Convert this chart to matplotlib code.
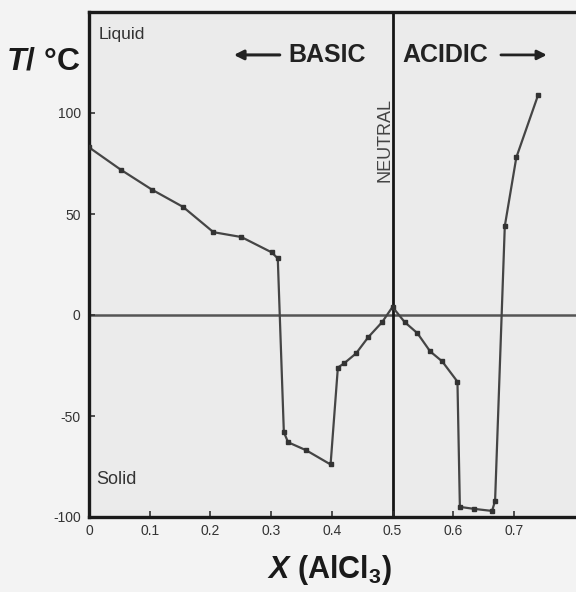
import matplotlib
matplotlib.use("Agg")
import matplotlib.pyplot as plt

plt.rcParams['font.family'] = ['Liberation Sans', 'DejaVu Sans']
plt.rcParams['mathtext.fontset'] = 'custom'
plt.rcParams['mathtext.it'] = 'Liberation Sans:italic:bold'
plt.rcParams['mathtext.bf'] = 'Liberation Sans:bold'
plt.rcParams['mathtext.rm'] = 'Liberation Sans:bold'

# Data: freezing point of [EMIM]Cl-AlCl3 vs mole fraction AlCl3
x_alcl3 = [0.0, 0.052, 0.104, 0.155, 0.205, 0.251, 0.301, 0.311, 0.321, 0.328,
           0.358, 0.398, 0.41, 0.42, 0.44, 0.46, 0.483, 0.5, 0.52, 0.541,
           0.562, 0.582, 0.607, 0.611, 0.635, 0.664, 0.669, 0.685, 0.704, 0.74]
temp_c = [83, 72, 62, 53.5, 41, 38.6, 31, 28, -58, -63,
          -67, -74, -26, -24, -19, -11, -3.5, 4, -3.5, -9,
          -18, -23, -33, -95, -96, -97, -92, 44, 78, 109]

x_ticks = [0, 0.1, 0.2, 0.3, 0.4, 0.5, 0.6, 0.7]
x_ticklabels = ['0', '0.1', '0.2', '0.3', '0.4', '0.5', '0.6', '0.7']
y_ticks = [-100, -50, 0, 50, 100]
y_ticklabels = ['-100', '-50', '0', '50', '100']
neutral_x = 0.5

W, H = 576, 592
fig = plt.figure(figsize=(W / 100, H / 100), dpi=100, facecolor='#f3f3f3')
left_px, right_px, top_px, bot_px = 89, 579, 12, 517
ax = fig.add_axes([left_px / W, 1 - bot_px / H, (right_px - left_px) / W, (bot_px - top_px) / H])
ax.set_facecolor('#ebebeb')
ax.set_xlim(0, (right_px - left_px) / 607.0)
ax.set_ylim(-100, 150)

ax.axhline(0, color='#555555', lw=1.8, zorder=1)
ax.axvline(neutral_x, color='#151515', lw=2.0, zorder=1)

ax.plot(x_alcl3, temp_c, color='#454545', lw=1.6, marker='s', ms=2.8,
        mfc='#333333', mec='#333333', zorder=3)

for s in ['left', 'bottom', 'top']:
    ax.spines[s].set_linewidth(2.4)
    ax.spines[s].set_color('#1a1a1a')
ax.spines['right'].set_visible(False)

ax.set_xticks(x_ticks)
ax.set_xticklabels(x_ticklabels)
ax.set_yticks(y_ticks)
ax.set_yticklabels(y_ticklabels)
ax.tick_params(direction='in', length=4, width=1.2, colors='#333333',
               labelsize=10, pad=5)
ax.tick_params(axis='y', pad=6)

ax.text(0.02, 0.97, 'Liquid', transform=ax.transAxes, fontsize=12.5,
        color='#333333', va='top', ha='left')
ax.text(0.015, 0.075, 'Solid', transform=ax.transAxes, fontsize=13,
        color='#333333', va='center', ha='left')

ty = 0.915
ax.text(0.565, ty, 'BASIC', transform=ax.transAxes, fontsize=18,
        fontweight='bold', color='#222222', ha='right', va='center')
ax.annotate('', xy=(0.29, ty), xytext=(0.395, ty), xycoords='axes fraction',
            arrowprops=dict(arrowstyle='-|>', color='#222222', lw=2.2,
                            mutation_scale=14))
ax.text(0.64, ty, 'ACIDIC', transform=ax.transAxes, fontsize=18,
        fontweight='bold', color='#222222', ha='left', va='center')
ax.annotate('', xy=(0.94, ty), xytext=(0.835, ty), xycoords='axes fraction',
            arrowprops=dict(arrowstyle='-|>', color='#222222', lw=2.0,
                            mutation_scale=14))
ax.text(neutral_x - 0.013, 66, 'NEUTRAL', rotation=90, fontsize=13,
        color='#444444', ha='center', va='bottom')

fig.text(6 / W, 1 - 62 / H, r'$T/$ °C', fontsize=23, fontweight='bold',
         color='#1a1a1a', ha='left', va='center')
fig.text(330 / W, 1 - 570 / H, r'$X$ (AlCl$_{\mathbf{3}}$)', fontsize=22,
         fontweight='bold', color='#1a1a1a', ha='center', va='center')

fig.savefig('out.png', dpi=100, facecolor=fig.get_facecolor())
